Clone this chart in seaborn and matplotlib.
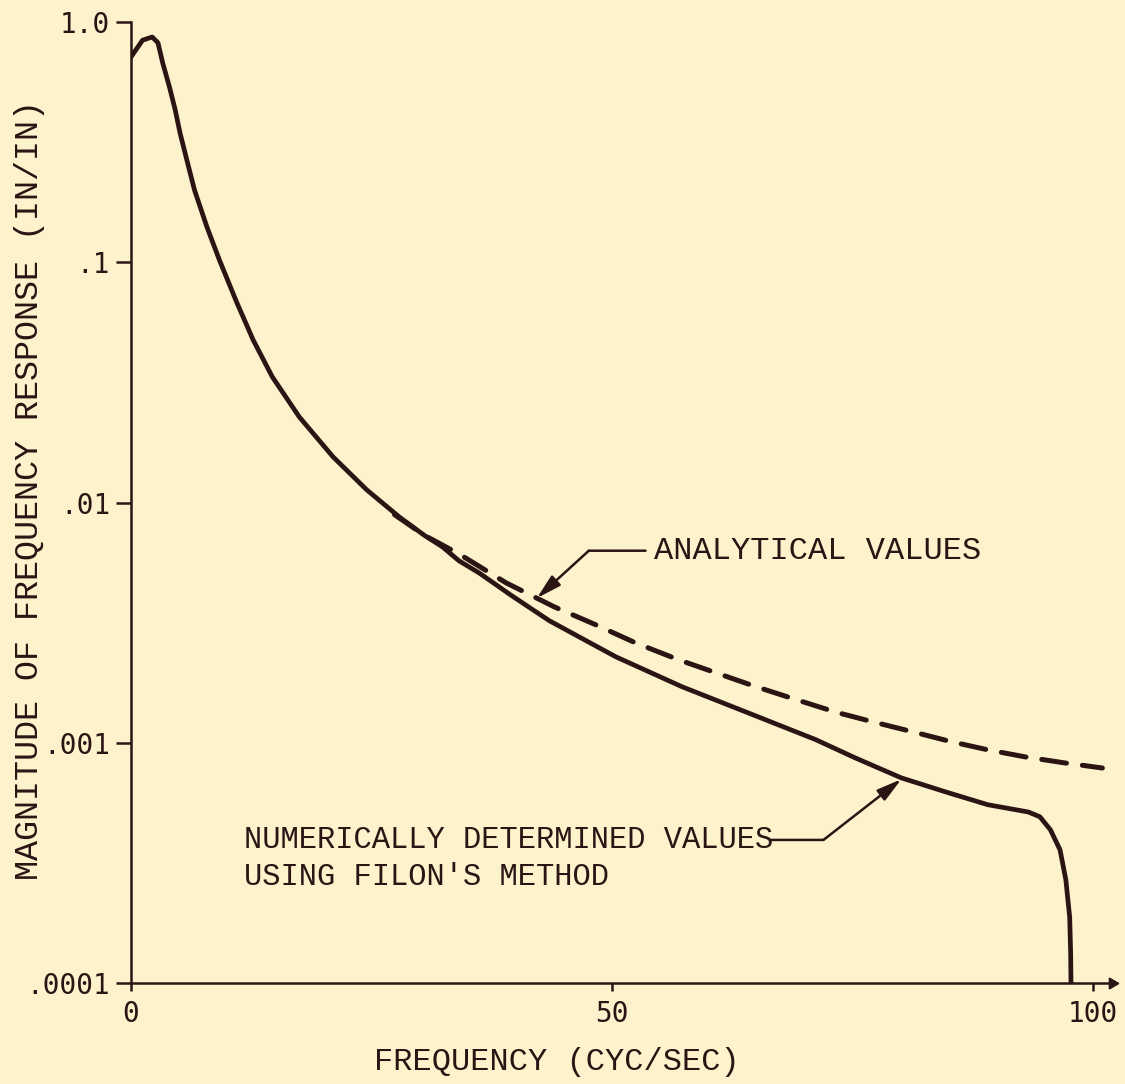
import matplotlib
matplotlib.use("Agg")
import matplotlib.pyplot as plt
import seaborn as sns

# values
freq_numerical = [0, 1.2, 2.2, 2.8, 3.3, 4.0, 4.6, 5.1, 5.8, 6.6, 7.9, 9.2, 11.0,
                  12.7, 14.7, 17.5, 21.0, 24.5, 27.9, 30.5, 32.4, 34.1, 36.2, 39.6,
                  43.5, 50.4, 57.3, 64.2, 71.2, 75.3, 80.1, 85.0, 89.1, 93.3, 94.5,
                  95.6, 96.6, 97.2, 97.6, 97.7, 97.75]
mag_numerical = [0.715, 0.84, 0.866, 0.82, 0.675, 0.536, 0.43, 0.345, 0.267, 0.20,
                 0.14, 0.102, 0.068, 0.0475, 0.0333, 0.0227, 0.0155, 0.0113, 0.0087,
                 0.0073, 0.00653, 0.00572, 0.00509, 0.00409, 0.00322, 0.00228,
                 0.00171, 0.00133, 0.00103, 0.000865, 0.000714, 0.000619, 0.000552,
                 0.000515, 0.000492, 0.000434, 0.000358, 0.000269, 0.000188,
                 0.000134, 0.00009]

freq_analytical = [27.4, 30.5, 34.1, 39.0, 44.0, 48.3, 52.5, 57.0, 60.9, 65.0, 69.2,
                   73.3, 77.2, 81.3, 85.3, 89.1, 93.0, 97.1, 101.0]
mag_analytical = [0.0089, 0.0073, 0.00611, 0.00463, 0.00368, 0.0031, 0.0026, 0.00221,
                  0.00195, 0.00171, 0.00151, 0.00134, 0.00122, 0.00111, 0.00101,
                  0.000934, 0.000873, 0.000824, 0.000785]

x_ticks = [0, 50, 100]
x_ticklabels = ['0', '50', '100']
y_ticks = [1e-4, 1e-3, 1e-2, 1e-1, 1.0]
y_ticklabels = ['.0001', '.001', '.01', '.1', '1.0']

bg = '#fcf2cb'
ink = '#2b1414'

sns.set_style("ticks")
plt.rcParams['font.family'] = ['Liberation Mono', 'DejaVu Sans Mono']

fig = plt.figure(figsize=(11.25, 10.84), dpi=100, facecolor=bg)
ax = fig.add_axes([131/1125, 101/1084, 981/1125, 961/1084])
ax.set_facecolor(bg)

sns.lineplot(x=freq_numerical, y=mag_numerical, ax=ax, color=ink, linewidth=3.4,
             sort=False, estimator=None, solid_capstyle='round',
             solid_joinstyle='round')
sns.lineplot(x=freq_analytical, y=mag_analytical, ax=ax, color=ink, linewidth=3.6,
             sort=False, estimator=None, dashes=False, linestyle=(0, (5.0, 3.2)),
             dash_capstyle='round')

ax.set_yscale('log')
ax.set_xlim(0, 102)
ax.set_ylim(1e-4, 1.0)
ax.set_xticks(x_ticks)
ax.set_xticklabels(x_ticklabels)
ax.set_yticks(y_ticks)
ax.set_yticklabels(y_ticklabels)
ax.minorticks_off()

for side in ['top', 'right']:
    ax.spines[side].set_visible(False)
for side in ['left', 'bottom']:
    ax.spines[side].set_color(ink)
    ax.spines[side].set_linewidth(1.8)

ax.tick_params(axis='y', length=11, width=1.8, color=ink, pad=4,
               labelsize=20, labelcolor=ink)
ax.tick_params(axis='x', length=6, width=1.8, color=ink, pad=6,
               labelsize=20, labelcolor=ink)
for lab in ax.get_xticklabels() + ax.get_yticklabels():
    lab.set_family('DejaVu Sans Mono')

# small arrow head at the end of the x axis
ax.plot(1, 0, marker=(3, 0, -90), markersize=9, color=ink,
        transform=ax.transAxes, clip_on=False)

ax.set_xlabel('FREQUENCY (CYC/SEC)', fontsize=23, color=ink)
ax.xaxis.set_label_coords(0.434, -0.082)
ax.xaxis.label.set_va('center')
ax.set_ylabel('MAGNITUDE OF FREQUENCY RESPONSE (IN/IN)', fontsize=24, color=ink)
ax.yaxis.set_label_coords(-0.103, 0.513)
ax.yaxis.label.set_va('center')

arrow = dict(arrowstyle='-|>,head_length=0.75,head_width=0.2', color=ink,
             lw=1.8, mutation_scale=20, shrinkA=0, shrinkB=0)
plain = dict(arrowstyle='-', color=ink, lw=1.8, shrinkA=0, shrinkB=0)

# analytical values label
ax.text(54.4, 0.0063, 'ANALYTICAL VALUES', fontsize=23, color=ink,
        ha='left', va='center')
ax.annotate('', xy=(47.6, 0.0063), xytext=(53.5, 0.0063), arrowprops=plain)
ax.annotate('', xy=(42.2, 0.0040), xytext=(47.6, 0.0063), arrowprops=arrow)

# numerical values label
ax.text(11.8, 0.000394, 'NUMERICALLY DETERMINED VALUES', fontsize=22, color=ink,
        ha='left', va='center')
ax.text(11.8, 0.000277, "USING FILON'S METHOD", fontsize=22, color=ink,
        ha='left', va='center')
ax.annotate('', xy=(72.0, 0.000394), xytext=(66.6, 0.000394), arrowprops=plain)
ax.annotate('', xy=(80.1, 0.000705), xytext=(72.0, 0.000394), arrowprops=arrow)

fig.savefig('out.png', dpi=100, facecolor=bg)
